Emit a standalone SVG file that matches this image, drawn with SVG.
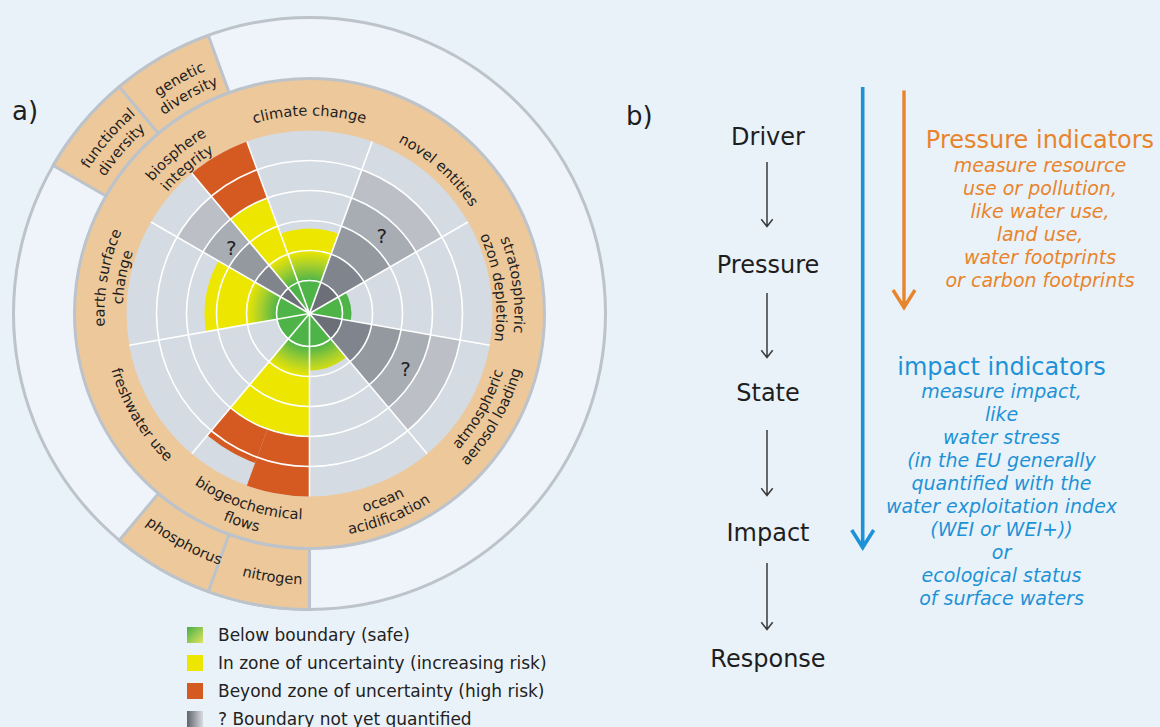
<svg xmlns="http://www.w3.org/2000/svg" width="1160" height="727" viewBox="0 0 1160 727">
<defs>
<style>
.bg{fill:#eaf2f9}
.oc{fill:#eef4fa;stroke:#bcc3ca;stroke-width:3}
.pe{fill:#edc89b;stroke:#bcc3ca;stroke-width:3}
.dv{fill:none;stroke:#bcc3ca;stroke-width:3}
.disc{fill:#d4dbe2}
.y{fill:#ede600}.o{fill:#d55a22}.g{fill:#4eb448}.gr{fill:url(#rg)}
.s1{fill:#6c6f78}.s2{fill:#80848c}.s3{fill:#94989f}.s4{fill:#a8acb3}.s5{fill:#bcc0c6}
.wl{fill:none;stroke:#ffffff;stroke-width:1.6}
.lab{font-family:"DejaVu Sans",Verdana,sans-serif;font-size:14.6px;fill:#1e1e1e;text-anchor:middle}
.q{font-family:"DejaVu Sans",Verdana,sans-serif;font-size:20px;fill:#222;text-anchor:middle}
.leg{font-family:"DejaVu Sans",Verdana,sans-serif;font-size:17px;fill:#222}
.pl{font-family:"DejaVu Sans",Verdana,sans-serif;font-size:26px;fill:#1e1e1e}
.dp{font-family:"DejaVu Sans",Verdana,sans-serif;font-size:24px;fill:#1e1e1e;text-anchor:middle}
.ar{fill:none;stroke:#3a3a3a;stroke-width:1.5}
.ot{font-family:"DejaVu Sans",Verdana,sans-serif;fill:#e8842c;text-anchor:middle}
.bt{font-family:"DejaVu Sans",Verdana,sans-serif;fill:#1e92d6;text-anchor:middle}
.it{font-size:19px;font-style:italic}
.hd{font-size:24px}
</style>
<radialGradient id="rg" gradientUnits="userSpaceOnUse" cx="0" cy="0" r="63">
<stop offset="0.52" stop-color="#4eb448"/>
<stop offset="0.78" stop-color="#a9d02c"/>
<stop offset="1" stop-color="#ece600"/>
</radialGradient>
<linearGradient id="lg1" x1="0" y1="0" x2="1" y2="1">
<stop offset="0" stop-color="#44b048"/>
<stop offset="1" stop-color="#e2e35e"/>
</linearGradient>
<linearGradient id="lg4" x1="0" y1="0" x2="1" y2="0">
<stop offset="0" stop-color="#5f636a"/>
<stop offset="1" stop-color="#d8dce0"/>
</linearGradient>
<clipPath id="cClim"><path d="M0,0 L0,-190 A190,190 0 0 1 122.13,-145.55 Z" transform="rotate(-20)"/></clipPath>
<clipPath id="cNov"><path d="M0,0 L0,-190 A190,190 0 0 1 122.13,-145.55 Z" transform="rotate(20)"/></clipPath>
<clipPath id="cStr"><path d="M0,0 L0,-190 A190,190 0 0 1 122.13,-145.55 Z" transform="rotate(60)"/></clipPath>
<clipPath id="cAer"><path d="M0,0 L0,-190 A190,190 0 0 1 122.13,-145.55 Z" transform="rotate(100)"/></clipPath>
<clipPath id="cOce"><path d="M0,0 L0,-190 A190,190 0 0 1 122.13,-145.55 Z" transform="rotate(140)"/></clipPath>
<clipPath id="cBio"><path d="M0,0 L0,-190 A190,190 0 0 1 122.13,-145.55 Z" transform="rotate(180)"/></clipPath>
<clipPath id="cN"><path d="M0,0 L0,-190 A190,190 0 0 1 64.98,-178.54 Z" transform="rotate(180)"/></clipPath>
<clipPath id="cP"><path d="M0,0 L0,-190 A190,190 0 0 1 64.98,-178.54 Z" transform="rotate(200)"/></clipPath>
<clipPath id="cFre"><path d="M0,0 L0,-190 A190,190 0 0 1 122.13,-145.55 Z" transform="rotate(220)"/></clipPath>
<clipPath id="cEar"><path d="M0,0 L0,-190 A190,190 0 0 1 122.13,-145.55 Z" transform="rotate(260)"/></clipPath>
<clipPath id="cFun"><path d="M0,0 L0,-190 A190,190 0 0 1 64.98,-178.54 Z" transform="rotate(300)"/></clipPath>
<clipPath id="cGen"><path d="M0,0 L0,-190 A190,190 0 0 1 64.98,-178.54 Z" transform="rotate(320)"/></clipPath>
<path id="cw198" d="M-186.06,-67.72 A198,198 0 0 1 186.06,-67.72"/>
<path id="cw193" d="M-181.36,-66.01 A193,193 0 0 1 181.36,-66.01"/>
<path id="cw205" d="M-192.64,-70.11 A205,205 0 0 1 192.64,-70.11"/>
<path id="cw187" d="M-175.72,-63.96 A187,187 0 0 1 175.72,-63.96"/>
<path id="cw264" d="M-248.08,-90.29 A264,264 0 0 1 248.08,-90.29"/>
<path id="cw246" d="M-231.16,-84.14 A246,246 0 0 1 231.16,-84.14"/>
<path id="cc202" d="M-189.82,69.09 A202,202 0 0 0 189.82,69.09"/>
<path id="cc219" d="M-205.79,74.9 A219,219 0 0 0 205.79,74.9"/>
<path id="cc206" d="M-193.58,70.46 A206,206 0 0 0 193.58,70.46"/>
<path id="cc224" d="M-210.49,76.61 A224,224 0 0 0 210.49,76.61"/>
<path id="cc267" d="M-250.9,91.32 A267,267 0 0 0 250.9,91.32"/>
<path id="cc271" d="M-254.66,92.69 A271,271 0 0 0 254.66,92.69"/>
</defs>

<rect class="bg" x="0" y="0" width="1160" height="727"/>

<text class="pl" x="12" y="120">a)</text>

<g id="wheel" transform="translate(309.5,313.5)">
  <g id="outer-ring">
    <circle class="oc" r="296"/>
    <path class="pe" d="M-203.52,-117.5 L-256.34,-148 A296,296 0 0 1 -101.24,-278.15 L-80.37,-220.83 A235,235 0 0 0 -203.52,-117.5 Z"/>
    <path class="dv" d="M-151.06,-180.02 L-190.27,-226.75"/>
    <path class="pe" d="M0,235 L0,296 A296,296 0 0 1 -190.27,226.75 L-151.06,180.02 A235,235 0 0 0 0,235 Z"/>
    <path class="dv" d="M-80.37,220.83 L-101.24,278.15"/>
  </g>
  <g id="boundary-ring">
    <circle class="pe" r="235"/>
    <circle class="disc" r="183"/>
  </g>
  <g id="sectors">
    <g id="climate-change" clip-path="url(#cClim)"><circle class="y" r="85"/><circle class="gr" r="63"/><circle class="g" r="33"/></g>
    <g id="novel-entities" clip-path="url(#cNov)"><circle class="s5" r="153"/><circle class="s4" r="123"/><circle class="s3" r="93"/><circle class="s2" r="63"/><circle class="s1" r="33"/></g>
    <g id="ozone" clip-path="url(#cStr)"><circle class="g" r="42"/></g>
    <g id="aerosol" clip-path="url(#cAer)"><circle class="s5" r="153"/><circle class="s4" r="123"/><circle class="s3" r="93"/><circle class="s2" r="63"/><circle class="s1" r="33"/></g>
    <g id="ocean" clip-path="url(#cOce)"><circle class="gr" r="57"/><circle class="g" r="33"/></g>
    <g id="nitrogen-fill" clip-path="url(#cN)"><circle class="o" r="183"/></g>
    <g id="phosphorus-fill" clip-path="url(#cP)"><circle class="o" r="159"/></g>
    <g id="biogeochemical" clip-path="url(#cBio)"><circle class="y" r="123"/><circle class="gr" r="63"/><circle class="g" r="33"/></g>
    <g id="freshwater" clip-path="url(#cFre)"><circle class="g" r="33"/></g>
    <g id="earth-surface" clip-path="url(#cEar)"><circle class="y" r="105"/><circle class="gr" r="63"/><circle class="g" r="33"/></g>
    <g id="functional" clip-path="url(#cFun)"><circle class="s5" r="153"/><circle class="s4" r="123"/><circle class="s3" r="93"/><circle class="s2" r="63"/><circle class="s1" r="33"/></g>
    <g id="genetic" clip-path="url(#cGen)"><circle class="o" r="183"/><circle class="y" r="123"/><circle class="gr" r="63"/><circle class="g" r="33"/></g>
  </g>
  <g id="grid">
    <circle class="wl" r="33"/><circle class="wl" r="63"/><circle class="wl" r="93"/><circle class="wl" r="123"/><circle class="wl" r="153"/>
    <line class="wl" x1="0" y1="0" x2="0" y2="-183" transform="rotate(20)"/>
    <line class="wl" x1="0" y1="0" x2="0" y2="-183" transform="rotate(60)"/>
    <line class="wl" x1="0" y1="0" x2="0" y2="-183" transform="rotate(100)"/>
    <line class="wl" x1="0" y1="0" x2="0" y2="-183" transform="rotate(140)"/>
    <line class="wl" x1="0" y1="0" x2="0" y2="-183" transform="rotate(180)"/>
    <line class="wl" x1="0" y1="0" x2="0" y2="-183" transform="rotate(220)"/>
    <line class="wl" x1="0" y1="0" x2="0" y2="-183" transform="rotate(260)"/>
    <line class="wl" x1="0" y1="0" x2="0" y2="-183" transform="rotate(300)"/>
    <line class="wl" x1="0" y1="0" x2="0" y2="-183" transform="rotate(320)"/>
    <line class="wl" x1="0" y1="0" x2="0" y2="-183" transform="rotate(340)"/>
    <circle r="2.2" fill="#ffffff"/>
  </g>
  <g id="unknown-marks">
    <text class="q" x="72.3" y="-70.5">?</text>
    <text class="q" x="96.1" y="62.5">?</text>
    <text class="q" x="-78.1" y="-58.5">?</text>
  </g>
  <g id="ring-labels">
    <text class="lab"><textPath href="#cw198" startOffset="50%">climate change</textPath></text>
    <text class="lab" transform="rotate(42)"><textPath href="#cw193" startOffset="50%">novel entities</textPath></text>
    <text class="lab" transform="rotate(82)"><textPath href="#cw205" startOffset="50%">stratospheric</textPath></text>
    <text class="lab" transform="rotate(82)"><textPath href="#cw187" startOffset="50%">ozon depletion</textPath></text>
    <text class="lab" transform="rotate(-60.5)"><textPath href="#cc202" startOffset="50%">atmospheric</textPath></text>
    <text class="lab" transform="rotate(-60.5)"><textPath href="#cc219" startOffset="50%">aerosol loading</textPath></text>
    <text class="lab" transform="rotate(-21.5)"><textPath href="#cc206" startOffset="50%">ocean</textPath></text>
    <text class="lab" transform="rotate(-21.5)"><textPath href="#cc224" startOffset="50%">acidification</textPath></text>
    <text class="lab" transform="rotate(18)"><textPath href="#cc206" startOffset="50%">biogeochemical</textPath></text>
    <text class="lab" transform="rotate(18)"><textPath href="#cc224" startOffset="50%">flows</textPath></text>
    <text class="lab" transform="rotate(59)"><textPath href="#cc206" startOffset="50%">freshwater use</textPath></text>
    <text class="lab" transform="rotate(280)"><textPath href="#cw205" startOffset="50%">earth surface</textPath></text>
    <text class="lab" transform="rotate(281)"><textPath href="#cw187" startOffset="50%">change</textPath></text>
    <text class="lab" transform="rotate(320)"><textPath href="#cw205" startOffset="50%">biosphere</textPath></text>
    <text class="lab" transform="rotate(320)"><textPath href="#cw187" startOffset="50%">integrity</textPath></text>
  </g>
  <g id="tab-labels">
    <text class="lab" transform="rotate(311)"><textPath href="#cw264" startOffset="50%">functional</textPath></text>
    <text class="lab" transform="rotate(311)"><textPath href="#cw246" startOffset="50%">diversity</textPath></text>
    <text class="lab" transform="rotate(331)"><textPath href="#cw264" startOffset="50%">genetic</textPath></text>
    <text class="lab" transform="rotate(331)"><textPath href="#cw246" startOffset="50%">diversity</textPath></text>
    <text class="lab" transform="rotate(28.8)"><textPath href="#cc267" startOffset="50%">phosphorus</textPath></text>
    <text class="lab" transform="rotate(8)"><textPath href="#cc271" startOffset="50%">nitrogen</textPath></text>
  </g>
</g>

<g id="legend">
  <rect x="187" y="627" width="16" height="16" fill="url(#lg1)"/>
  <rect x="187" y="655" width="16" height="16" fill="#ede600"/>
  <rect x="187" y="683" width="16" height="16" fill="#d55a22"/>
  <rect x="187" y="711" width="16" height="16" fill="url(#lg4)"/>
  <text class="leg" x="218" y="641">Below boundary (safe)</text>
  <text class="leg" x="218" y="669">In zone of uncertainty (increasing risk)</text>
  <text class="leg" x="218" y="697">Beyond zone of uncertainty (high risk)</text>
  <text class="leg" x="218" y="725">? Boundary not yet quantified</text>
</g>

<text class="pl" x="626" y="125">b)</text>

<g id="dpsir">
  <g id="driver"><text class="dp" x="768" y="145">Driver</text></g>
  <g id="pressure"><text class="dp" x="768" y="273">Pressure</text></g>
  <g id="state"><text class="dp" x="768" y="401">State</text></g>
  <g id="impact"><text class="dp" x="768" y="541">Impact</text></g>
  <g id="response"><text class="dp" x="768" y="667">Response</text></g>
</g>
<g id="connectors">
  <path class="ar" d="M767,162 V226.5 M761.3,219.3 L767,226.5 L772.7,219.3"/>
  <path class="ar" d="M767,293 V357.5 M761.3,350.3 L767,357.5 L772.7,350.3"/>
  <path class="ar" d="M767,430 V495.5 M761.3,488.3 L767,495.5 L772.7,488.3"/>
  <path class="ar" d="M767,563 V629.5 M761.3,622.3 L767,629.5 L772.7,622.3"/>
  <path d="M862.7,87 V546 M851.7,530 L862.7,547.5 L873.7,530" fill="none" stroke="#1e92d6" stroke-width="3.6" stroke-linejoin="miter"/>
  <path d="M904,90.5 V306 M893,290 L904,307.5 L915,290" fill="none" stroke="#e8842c" stroke-width="3.4" stroke-linejoin="miter"/>
</g>

<g id="pressure-indicators" class="ot">
  <text class="hd" x="1040" y="148">Pressure indicators</text>
  <text class="it" x="1040" y="172">measure resource</text>
  <text class="it" x="1040" y="195">use or pollution,</text>
  <text class="it" x="1040" y="218">like water use,</text>
  <text class="it" x="1040" y="241">land use,</text>
  <text class="it" x="1040" y="264">water footprints</text>
  <text class="it" x="1040" y="287">or carbon footprints</text>
</g>

<g id="impact-indicators" class="bt">
  <text class="hd" x="1001.5" y="375">impact indicators</text>
  <text class="it" x="1001.5" y="398">measure impact,</text>
  <text class="it" x="1001.5" y="421">like</text>
  <text class="it" x="1001.5" y="444">water stress</text>
  <text class="it" x="1001.5" y="467">(in the EU generally</text>
  <text class="it" x="1001.5" y="490">quantified with the</text>
  <text class="it" x="1001.5" y="513">water exploitation index</text>
  <text class="it" x="1001.5" y="536">(WEI or WEI+))</text>
  <text class="it" x="1001.5" y="559">or</text>
  <text class="it" x="1001.5" y="582">ecological status</text>
  <text class="it" x="1001.5" y="605">of surface waters</text>
</g>
</svg>
